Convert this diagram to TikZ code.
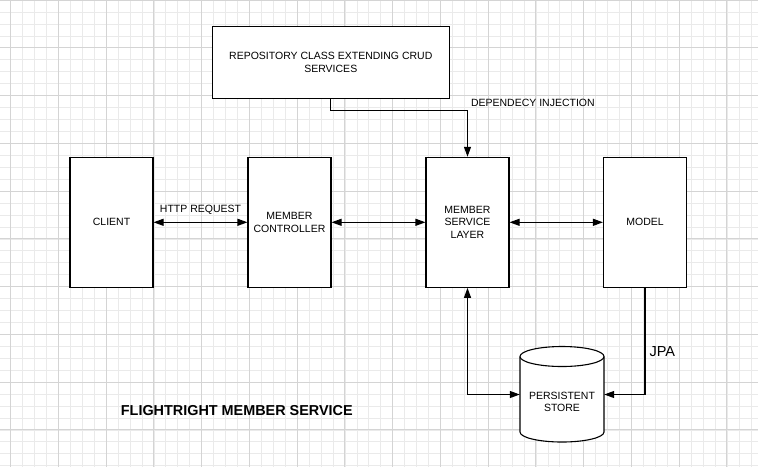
\documentclass[tikz,border=0pt]{standalone}
\usepackage{fontspec}
\setmainfont{Liberation Sans}
\usetikzlibrary{arrows.meta}
\definecolor{gridminor}{RGB}{234,234,234}
\definecolor{gridmajor}{RGB}{212,212,212}
\begin{document}
\begin{tikzpicture}[x=1pt,y=-1pt,
    block/.style={draw,fill=white,line width=1.1pt,minimum width=83pt,minimum height=130pt,align=center,font=\fontsize{10.5}{12.5}\selectfont},
    link/.style={line width=1.1pt,-{Triangle[length=10pt,width=7pt]}},
    twolink/.style={line width=1.1pt,{Triangle[length=10pt,width=7pt]}-{Triangle[length=10pt,width=7pt]}},
    lbl/.style={font=\fontsize{10.5}{12.5}\selectfont}]
    \useasboundingbox (0,0) rectangle (758,467);
    \fill[white] (0,0) rectangle (758,467);
    \foreach \i in {0,...,63} \draw[gridminor,line width=0.7pt] ({10.6+11.94*\i},0) -- ++(0,467);
    \foreach \j in {0,...,39} \draw[gridminor,line width=0.7pt] (0,{0.05+11.94*\j}) -- ++(758,0);
    \foreach \i in {0,...,15} \draw[gridmajor,line width=0.8pt] ({10.6+47.75*\i},0) -- ++(0,467);
    \foreach \j in {0,...,9} \draw[gridmajor,line width=0.8pt] (0,{0.05+47.75*\j}) -- ++(758,0);

    \node[block,minimum width=237pt,minimum height=71.6pt] (repo) at (330.8,62.5) {REPOSITORY CLASS EXTENDING CRUD\\SERVICES};
    \node[block] (client) at (111.5,222.3) {CLIENT};
    \node[block] (controller) at (289.5,222.3) {MEMBER\\CONTROLLER};
    \node[block] (service) at (467.5,222.3) {MEMBER\\SERVICE\\LAYER};
    \node[block] (model) at (645,222.3) {MODEL};

    \draw[fill=white,line width=1.1pt] (520,356.5) -- (520,432) arc[start angle=180,end angle=0,x radius=42,y radius=10] -- (604,356.5);
    \draw[fill=white,line width=1.1pt] (562,356.5) ellipse [x radius=42,y radius=10];
    \node[minimum width=84pt,minimum height=95pt] (store) at (562,394.5) {};
    \node[lbl,align=center] (storelbl) at (562,402) {PERSISTENT\\STORE};

    \draw[link] (repo.south) -- ++(0,11.7) -| (service.north);
    \node[lbl,anchor=west] (dilbl) at (467.5,103) {DEPENDECY INJECTION};
    \draw[twolink] (client) -- (controller);
    \node[lbl] (httplbl) at (200.5,210) {HTTP REQUEST};
    \draw[twolink] (controller) -- (service);
    \draw[twolink] (service) -- (model);
    \draw[twolink] (service.south) |- (store.west);
    \draw[link] (model.south) |- (store.east);
    \node[anchor=west,font=\fontsize{14.5}{17}\selectfont] (jpa) at (646,351.7) {JPA};

    \node[anchor=west,font=\fontsize{14.4}{17}\selectfont\bfseries] (title) at (117.4,410.7) {FLIGHTRIGHT MEMBER SERVICE};
\end{tikzpicture}
\end{document}
